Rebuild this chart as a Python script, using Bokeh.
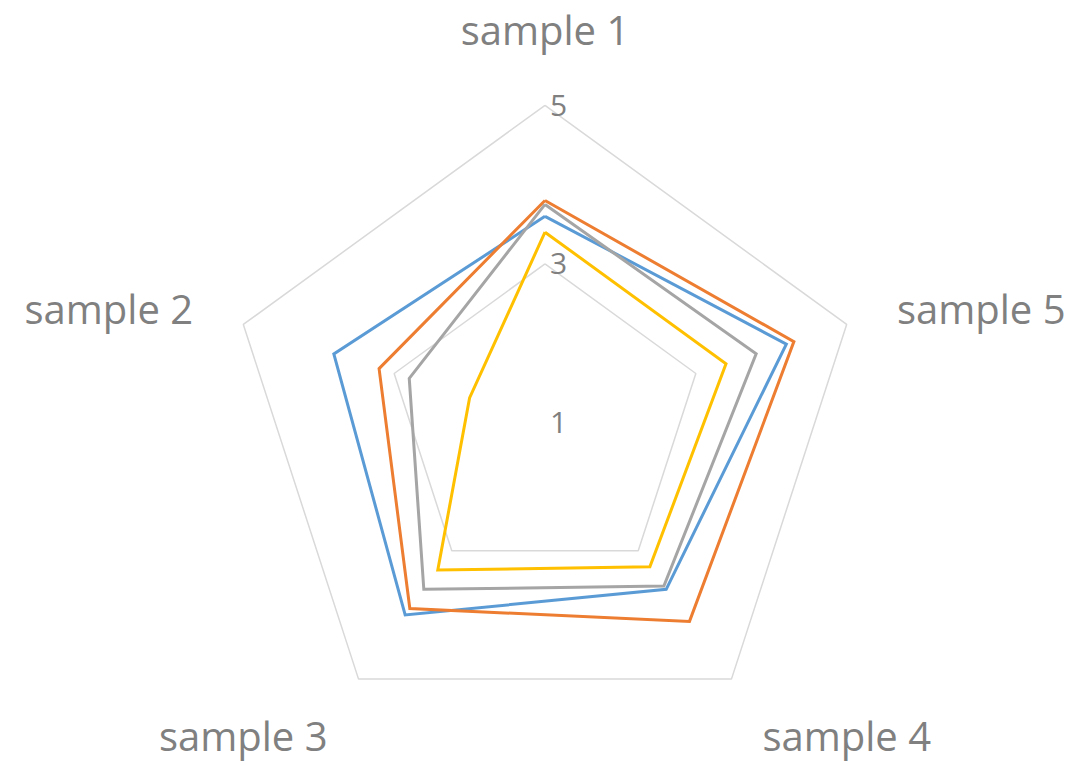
import numpy as np
from bokeh.plotting import figure
from bokeh.models import Range1d
from bokeh.core.properties import value
from bokeh.embed import file_html
from bokeh.resources import INLINE

categories = ["sample 1", "sample 2", "sample 3", "sample 4", "sample 5"]
series_blue = [3.6, 3.8, 4.0, 3.6, 4.2]
series_orange = [3.8, 3.2, 3.9, 4.1, 4.3]
series_gray = [3.75, 2.8, 3.6, 3.55, 3.8]
series_yellow = [3.4, 2.0, 3.3, 3.25, 3.4]
grid_values = [3, 5]
tick_labels = ["5", "3", "1"]
tick_values = [5, 3, 1]
r_min = 1

colors = ["#5B9BD5", "#ED7D31", "#A5A5A5", "#FFC000"]
all_series = [series_blue, series_orange, series_gray, series_yellow]

W, H = 1075, 766
cx, cy = 544.5, 422.0
unit = 79.3  # pixels per value unit

p = figure(width=W, height=H, output_backend="svg", toolbar_location=None,
           x_range=Range1d(-cx / unit, (W - cx) / unit),
           y_range=Range1d(-(H - cy) / unit, cy / unit),
           min_border=0, border_fill_color="white", outline_line_color=None)
p.axis.visible = False
p.grid.visible = False

n = len(categories)
angles = np.deg2rad(90 + 72 * np.arange(n))

def poly(vals):
    r = np.array(vals, dtype=float) - r_min
    xs = list(r * np.cos(angles)) + [r[0] * np.cos(angles[0])]
    ys = list(r * np.sin(angles)) + [r[0] * np.sin(angles[0])]
    return xs, ys

for g in grid_values:
    xs, ys = poly([g] * n)
    p.line(xs, ys, line_color="#D9D9D9", line_width=1.5)

for vals, c in zip(all_series, colors):
    xs, ys = poly(vals)
    p.line(xs, ys, line_color=c, line_width=3, line_join="miter")

# tick labels along the first axis
p.text(x=[5 / unit] * len(tick_values), y=[v - r_min for v in tick_values],
       text=tick_labels, text_font=value("Open Sans"), text_font_size="30px",
       text_color="#808080", text_align="left", text_baseline="middle")

# category labels
lab_r = 370 / unit
bottom_y = -(762 - cy) / unit
top_y = (cy - 1) / unit
for name, a in zip(categories, angles):
    ca, sa = np.cos(a), np.sin(a)
    x, y = lab_r * ca, lab_r * sa
    if abs(ca) < 0.1:
        align, base = "center", "top"
        y = top_y
    elif sa > 0:
        align, base = ("left" if ca > 0 else "right"), "middle"
    else:
        align, base = ("left" if ca > 0 else "right"), "bottom"
        y = bottom_y
    p.text(x=[x], y=[y], text=[name],
           text_font=value("Open Sans"), text_font_size="40px",
           text_color="#808080", text_align=align, text_baseline=base)

open("out.html", "w").write(file_html(p, INLINE))
